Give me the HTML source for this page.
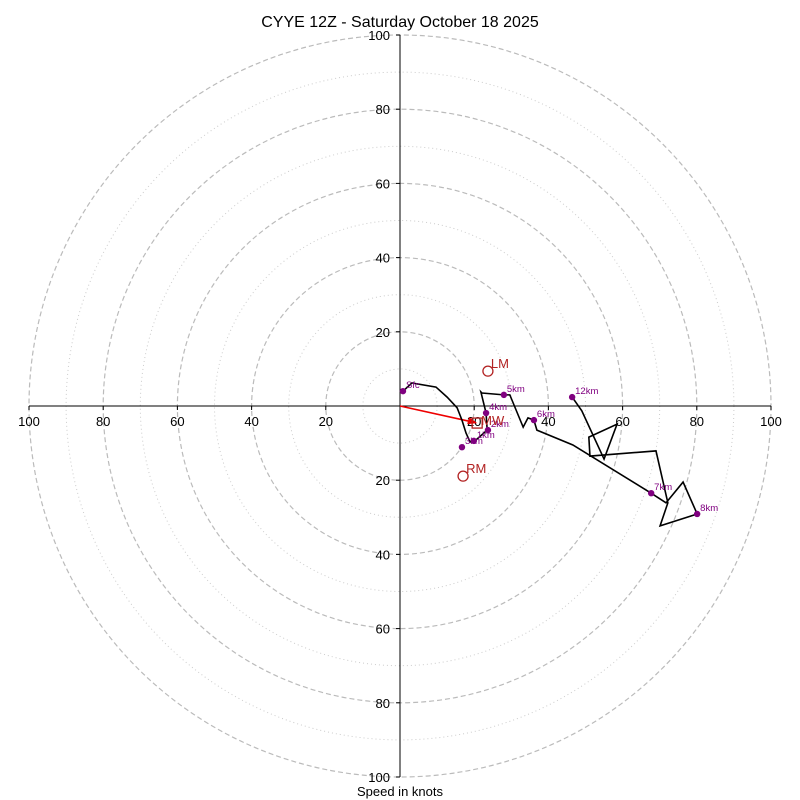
<!DOCTYPE html>
<html><head><meta charset="utf-8">
<style>
html,body{margin:0;padding:0;background:#fff;}
svg{display:block;font-family:"Liberation Sans","DejaVu Sans",sans-serif;}
</style></head>
<body>
<svg id="chart" width="800" height="800" viewBox="0 0 800 800">
<text x="400" y="27" font-size="16" text-anchor="middle">CYYE 12Z - Saturday October 18 2025</text>
<text x="400" y="796" font-size="13" text-anchor="middle">Speed in knots</text>
</svg>
<script>
// hodograph path (u, v knots)
const pathU = [0.8,3.2,9.7,12.7,15.4,16.7,17.8,18.9,20.2,23.5,23.2,21.8,22.1,28.0,29.6,33.2,34.5,36.1,36.9,46.6,67.7,71.7,76.3,80.1,70.1,72.2,69.0,51.2,50.9,58.5,55.0,49.0,46.4];
const pathV = [4.0,6.2,5.1,2.4,-0.5,-3.8,-7.3,-9.7,-9.4,-6.5,-1.9,3.8,3.5,3.0,3.0,-5.7,-3.2,-3.8,-6.5,-10.5,-23.5,-26.1,-20.5,-29.1,-32.3,-26.1,-12.1,-13.5,-8.4,-4.9,-14.3,-1.3,2.4];
// height markers
const markLabels = ["Sfc","1km","2km","3km","4km","5km","6km","7km","8km","12km"];
const markU = [0.8,19.9,23.7,16.7,23.2,28.0,36.1,67.7,80.1,46.4];
const markV = [4.0,-9.4,-6.5,-11.1,-1.9,3.0,-3.8,-23.5,-29.1,2.4];
// storm motion
const lmUV = [23.7,9.4];
const rmUV = [17.0,-18.9];
const mwUV = [20.8,-4.6];
const ringVals = [10,20,30,40,50,60,70,80,90,100];
const tickVals = [20,40,60,80,100];

const NS="http://www.w3.org/2000/svg";
const svg=document.getElementById('chart');
const cx=400, cy=406, sc=3.71;
const X=u=>cx+u*sc, Y=v=>cy-v*sc;
function mk(tag,attrs,parent){const e=document.createElementNS(NS,tag);for(const k in attrs)e.setAttribute(k,attrs[k]);(parent||svg).appendChild(e);return e;}

ringVals.forEach(r=>{
  const c=mk('circle',{cx:cx,cy:cy,r:r*sc,fill:'none',stroke:r%20===0?'#bbb':'#ccc','stroke-width':r%20===0?1.2:1,'stroke-dasharray':r%20===0?'5,3':'1,3'});
  
  
});
let ax=mk('line',{x1:X(-100),y1:cy,x2:X(100),y2:cy,stroke:'#000','stroke-width':1});


let ay=mk('line',{x1:cx,y1:Y(100),x2:cx,y2:Y(-100),stroke:'#000','stroke-width':1});


tickVals.forEach(t=>{
  [-t,t].forEach(s=>{
    const xt=mk('line',{x1:X(s),y1:cy,x2:X(s),y2:cy+4,stroke:'#000','stroke-width':1});
    
    
    const yt=mk('line',{x1:cx-4,y1:Y(s),x2:cx,y2:Y(s),stroke:'#000','stroke-width':1});
    
    
    const tx=mk('text',{x:X(s),y:cy+20,'font-size':13,'text-anchor':'middle'});tx.textContent=t;
    
    
    const ty=mk('text',{x:cx-10,y:Y(s)+5,'font-size':13,'text-anchor':'end'});ty.textContent=t;
    
    
  });
});
// mean wind arrow
let arr=mk('line',{x1:cx,y1:cy,x2:X(mwUV[0])-2,y2:Y(mwUV[1])-0.5,stroke:'#e00','stroke-width':1.6});


let ah=mk('polygon',{points:`${X(mwUV[0])},${Y(mwUV[1])} ${X(mwUV[0])-8},${Y(mwUV[1])-6} ${X(mwUV[0])-10},${Y(mwUV[1])+1}`,fill:'#e00'});


// hodograph line
const pts=pathU.map((u,i)=>X(u)+','+Y(pathV[i])).join(' ');
let pl=mk('polyline',{points:pts,fill:'none',stroke:'#000','stroke-width':1.6,'stroke-linejoin':'miter'});


// markers
markLabels.forEach((l,i)=>{
  const d=mk('circle',{cx:X(markU[i]),cy:Y(markV[i]),r:3.2,fill:'#800080'});
  
  
  const t=mk('text',{x:X(markU[i])+3,y:Y(markV[i])-3,'font-size':9.5,fill:'#800080'});t.textContent=l;
  
  
});
// storm motions
function sm(uv,label,name){
  const c=mk('circle',{cx:X(uv[0]),cy:Y(uv[1]),r:5,fill:'none',stroke:'#b22222','stroke-width':1.3});
  
  
  const t=mk('text',{x:X(uv[0])+3,y:Y(uv[1])-3,'font-size':13,fill:'#b22222'});t.textContent=label;
  
  
}
sm(lmUV,'LM','left-mover');
sm(rmUV,'RM','right-mover');
let mb=mk('rect',{x:X(mwUV[0])-5,y:Y(mwUV[1])-5,width:10,height:10,fill:'none',stroke:'#b22222','stroke-width':1.3});


let mt=mk('text',{x:X(mwUV[0])+4,y:Y(mwUV[1])+2,'font-size':13,fill:'#b22222'});mt.textContent='MW';


</script>
</body></html>
